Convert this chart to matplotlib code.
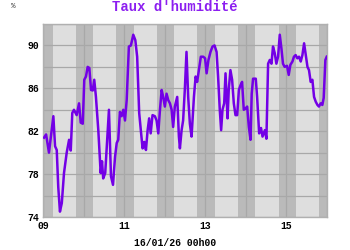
import matplotlib
matplotlib.use("Agg")
import matplotlib.pyplot as plt
import numpy as np

# Data: hours since 09/01 00h00, relative humidity (%)
hours = [0.6, 1.8, 3.5, 6.1, 7.1, 8.1, 9.0, 10.0, 11.1, 12.4, 14.0, 15.4, 16.4, 17.3,
         18.3, 19.9, 21.3, 22.3, 23.5, 24.4, 25.4, 26.4, 27.4, 28.4, 29.4, 30.3, 31.3,
         32.7, 34.1, 34.9, 35.6, 36.8, 39.0, 40.2, 41.4, 42.6, 43.6, 44.5, 45.5, 46.5,
         47.5, 48.5, 49.5, 50.8, 52.0, 53.4, 54.6, 55.7, 56.9, 57.9, 58.9, 59.9, 60.9,
         61.9, 62.8, 63.7, 64.8, 66.2, 67.2, 68.2, 69.2, 70.2, 71.1, 72.1, 73.1, 74.1,
         75.1, 76.1, 77.0, 78.0, 79.4, 80.4, 81.0, 82.0, 82.9, 83.9, 84.9, 85.9, 86.9,
         87.9, 89.3, 90.3, 91.2, 92.2, 93.4, 94.8, 95.9, 96.8, 97.9, 99.1, 100.3, 101.5,
         102.7, 103.6, 104.6, 105.4, 106.2, 107.2, 108.0, 108.6, 109.2, 109.9, 110.9,
         111.9, 112.9, 113.9, 114.9, 115.9, 116.9, 117.8, 118.8, 119.8, 120.8, 121.8,
         122.8, 123.5, 124.3, 125.9, 126.7, 127.9, 129.0, 129.9, 131.3, 132.2, 133.2,
         134.2, 135.2, 136.1, 137.1, 138.1, 139.1, 140.1, 141.1, 142.0, 143.0, 144.4,
         145.4, 146.4, 147.6, 148.5, 149.5, 150.5, 151.5, 152.5, 153.5, 154.5, 155.5,
         156.5, 157.4, 158.4, 159.4, 160.4, 161.4, 162.4, 163.3, 164.3, 165.3, 166.1,
         167.1, 167.9]
humidity = [81.4, 81.7, 80.0, 83.4, 80.6, 80.25, 76.8, 74.5, 75.3, 78.1, 80.0, 81.2, 80.2, 83.7,
            84.0, 83.5, 84.6, 82.8, 82.7, 86.8, 87.1, 88.0, 87.9, 85.85, 85.8, 86.8, 85.2,
            82.1, 78.1, 79.2, 77.6, 78.1, 84.0, 77.8, 77.0, 79.6, 80.9, 81.2, 83.8, 83.4,
            84.0, 83.0, 84.9, 89.9, 90.0, 91.0, 90.5, 88.95, 83.7, 82.1, 80.4, 81.0, 80.25,
            82.1, 83.2, 81.8, 83.5, 83.4, 83.0, 81.8, 84.0, 85.85, 85.2, 84.3, 85.5, 84.9,
            84.6, 84.0, 82.4, 84.3, 85.2, 81.5, 80.4, 82.1, 83.0, 85.85, 89.4, 85.2, 82.7,
            81.5, 85.2, 87.1, 86.6, 87.7, 88.95, 88.95, 88.8, 87.4, 88.65, 89.4, 89.9, 90.0,
            89.4, 87.1, 84.0, 82.1, 84.0, 84.6, 87.4, 85.2, 83.2, 85.85, 87.7,
            86.8, 84.6, 83.5, 83.5, 85.85, 86.3, 86.6, 84.0, 84.1, 84.3, 82.4,
            81.2, 85.5, 86.9, 86.9, 85.2, 81.8, 82.3, 81.5, 82.1, 81.3, 88.3,
            88.65, 88.3, 89.9, 89.3, 88.3, 88.95, 91.0, 89.7, 88.3, 88.0, 88.1,
            87.25, 88.2, 88.5, 88.95, 89.1, 88.8, 88.95, 88.5, 89.1, 90.2, 89.1,
            88.0, 87.7, 86.6, 86.8, 85.2, 84.75, 84.45, 84.3, 84.6, 84.45, 85.1,
            88.65, 88.95]

day_ticks = [0, 48, 96, 144]
day_labels = ["09", "11", "13", "15"]
y_ticks = [74, 78, 82, 86, 90]
night_start = 19.4   # hour of day where shading starts
night_end = 5.6      # hour of next day where shading ends

mono = "Liberation Mono"
fig = plt.figure(figsize=(3.5, 2.5), dpi=100)
ax = fig.add_axes([0.123, 0.132, 0.811, 0.772])
ax.set_facecolor("#dedede")

# night shading
for d in range(-1, 8):
    ax.axvspan(d * 24 + night_start, (d + 1) * 24 + night_end, color="#bababa", lw=0, zorder=0)

ax.set_xlim(0, 168)
ax.set_ylim(74, 92)
ax.set_xticks(np.arange(0, 169, 24), minor=False)
ax.set_yticks(np.arange(74, 93, 2))
ax.grid(True, color="#a8a8a8", lw=0.9, zorder=1)
ax.set_axisbelow(True)

ax.set_xticks(day_ticks)
ax.set_xticklabels(day_labels, fontfamily=mono, fontweight="bold", fontsize=7)
ax.set_xticks(np.arange(0, 169, 24), minor=True)
ax.grid(True, which="minor", axis="x", color="#a8a8a8", lw=0.9, zorder=1)
ax.set_yticks(np.arange(74, 93, 2), minor=False)
ax.set_yticklabels([str(v) if v in y_ticks else "" for v in range(74, 93, 2)],
                   fontfamily=mono, fontweight="bold", fontsize=7)
ax.tick_params(length=0, pad=3)
ax.tick_params(which="minor", length=0)
for s in ax.spines.values():
    s.set_color("#b0b0b0")
    s.set_linewidth(1)

ax.plot(hours, humidity, color="#7300e6", lw=1.8, zorder=3, solid_joinstyle="round")

fig.text(0.5, 0.972, "Taux d'humidité", ha="center", va="center", color="#8c1ef0",
         fontfamily=mono, fontweight="bold", fontsize=10)
fig.text(0.037, 0.975, "%", ha="center", va="center", fontfamily=mono, fontsize=5.5, color="#333333")
fig.text(0.5, 0.028, "16/01/26 00h00", ha="center", va="center", fontfamily=mono,
         fontweight="bold", fontsize=7)

fig.savefig("out.png", dpi=100, facecolor="white")
